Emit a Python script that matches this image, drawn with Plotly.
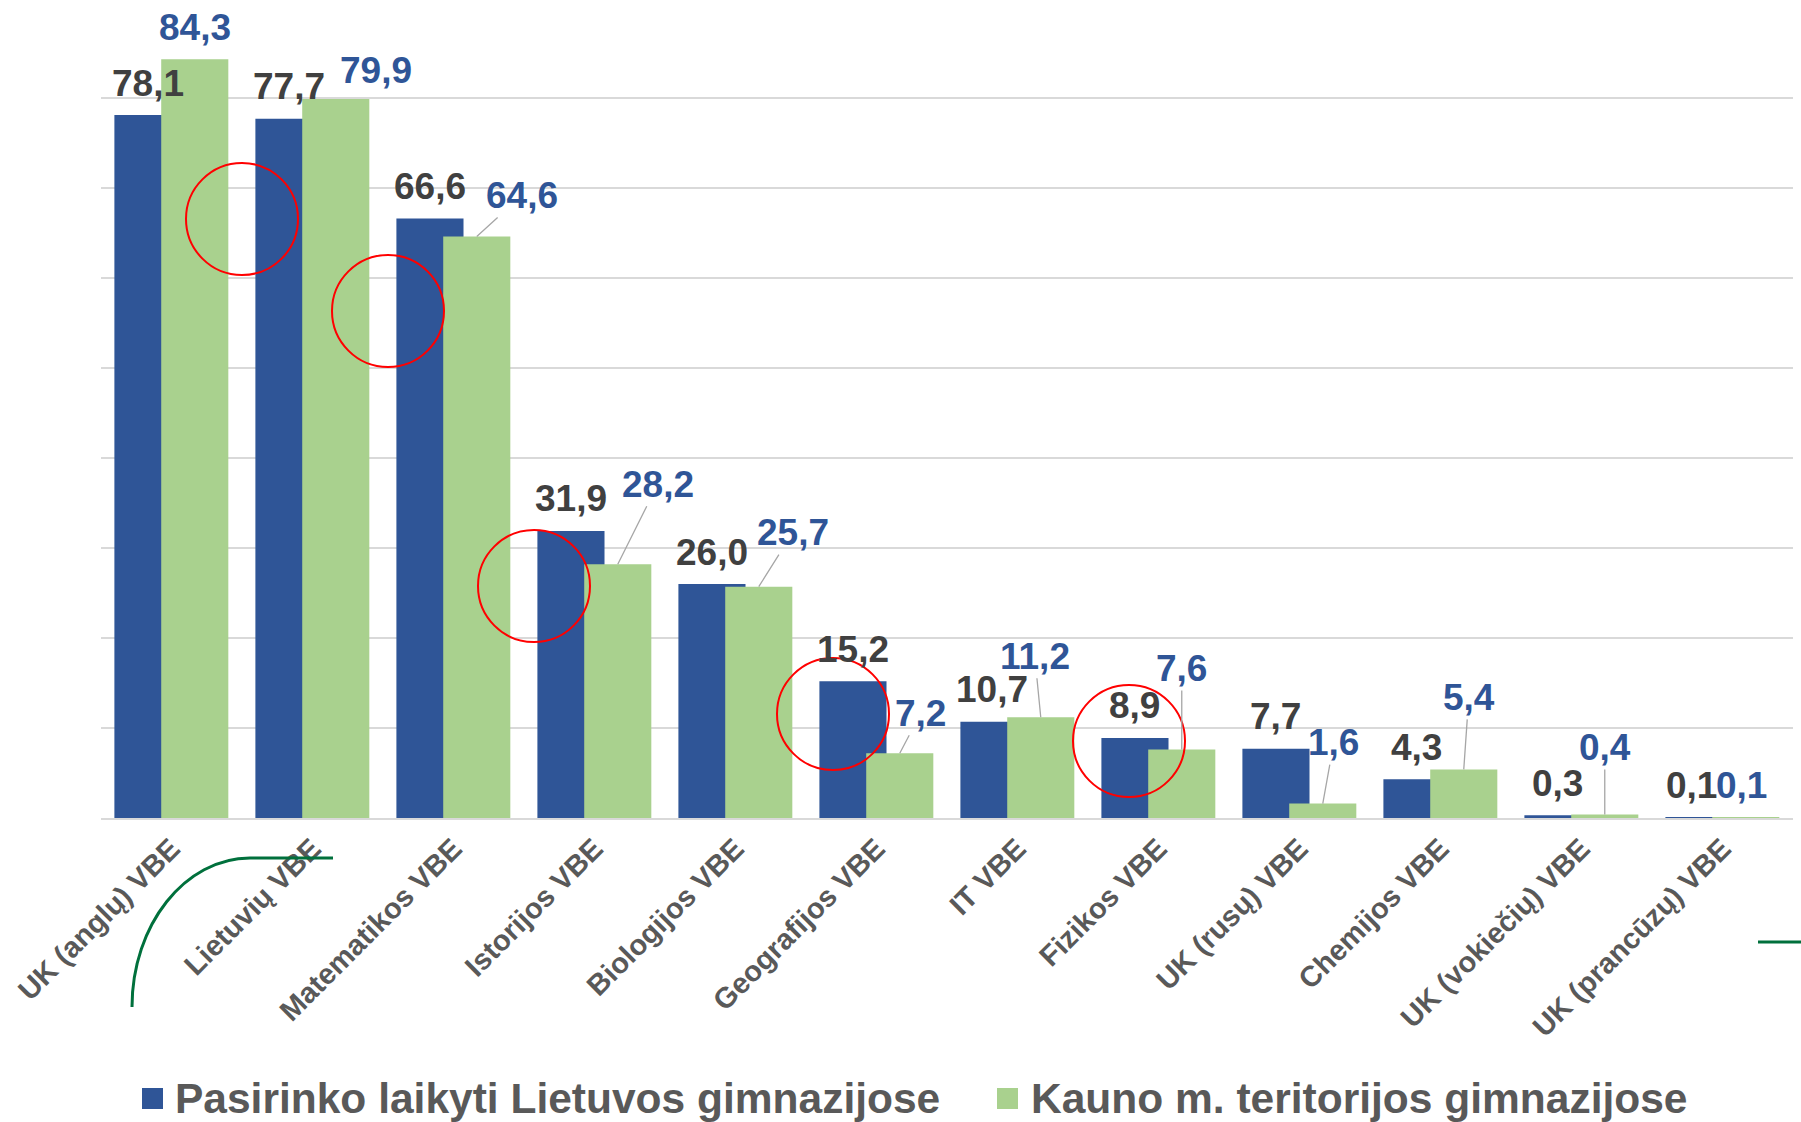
import plotly.graph_objects as go

# ---------------- data ----------------
categories = [
    "UK (anglų) VBE", "Lietuvių VBE", "Matematikos VBE", "Istorijos VBE",
    "Biologijos VBE", "Geografijos VBE", "IT VBE", "Fizikos VBE",
    "UK (rusų) VBE", "Chemijos VBE", "UK (vokiečių) VBE", "UK (prancūzų) VBE",
]
lithuania = [78.1, 77.7, 66.6, 31.9, 26.0, 15.2, 10.7, 8.9, 7.7, 4.3, 0.3, 0.1]
kaunas = [84.3, 79.9, 64.6, 28.2, 25.7, 7.2, 11.2, 7.6, 1.6, 5.4, 0.4, 0.1]
series_names = ["Pasirinko laikyti Lietuvos gimnazijose",
                "Kauno m. teritorijos gimnazijose"]

# ---------------- label placement (pixels) ----------------
blue_label_dx = [0, 0, 0, 0, 0, 0, -2, 0, 0, 0, 0, -7]
blue_label_up = [32] * 12
green_label_dx = [0, 40, 45, 40, 34, 21, -6, 0, 11, 5, 0, -4]
green_label_up = [32, 28, 41, 80, 54, 40, 61, 81, 61, 72, 67, 32]
green_leader = [False, False, True, True, True, True, True, True, True, True, True, False]

# ---------------- style ----------------
BLUE = "#2F5597"
GREEN = "#A9D18E"
DARK = "#404040"
GRAY = "#595959"
GRID = "#D9D9D9"
FONT = "Liberation Sans, Arial, sans-serif"

W, H = 1801, 1122
ML, MR, MT, MB = 101, 8, 8, 304
PW, PH = W - ML - MR, H - MT - MB


def px(x):
    return (x - ML) / PW


def py(y):
    return (H - MB - y) / PH


BAR_W = 0.476
OFF_B = -0.405
OFF_G = -0.073
CAT_PX = PW / len(categories)
shift_b = (OFF_B + BAR_W / 2) * CAT_PX
shift_g = (OFF_G + BAR_W / 2) * CAT_PX


def fmt(v):
    return f"{v:.1f}".replace(".", ",")


fig = go.Figure()
fig.add_bar(x=categories, y=lithuania, name=series_names[0], marker_color=BLUE,
            marker_line_width=0, width=BAR_W, offset=OFF_B, showlegend=False,
            hoverinfo="skip")
fig.add_bar(x=categories, y=kaunas, name=series_names[1], marker_color=GREEN,
            marker_line_width=0, width=BAR_W, offset=OFF_G, showlegend=False,
            hoverinfo="skip")

annotations = []
for i, (c, v) in enumerate(zip(categories, lithuania)):
    annotations.append(dict(
        x=c, y=v, xref="x", yref="y", text=fmt(v), showarrow=False,
        xshift=shift_b + blue_label_dx[i], yshift=blue_label_up[i],
        xanchor="center", yanchor="middle",
        font=dict(family=FONT, size=37, color=DARK, weight="bold")))

for i, (c, v) in enumerate(zip(categories, kaunas)):
    if green_leader[i]:
        annotations.append(dict(
            x=c, y=v, xref="x", yref="y", text=fmt(v), showarrow=True,
            ax=green_label_dx[i], ay=-green_label_up[i],
            xshift=shift_g, arrowhead=0, arrowwidth=1.3,
            arrowcolor="#A6A6A6", standoff=0,
            font=dict(family=FONT, size=37, color=BLUE, weight="bold")))
    else:
        annotations.append(dict(
            x=c, y=v, xref="x", yref="y", text=fmt(v), showarrow=False,
            xshift=shift_g + green_label_dx[i], yshift=green_label_up[i],
            xanchor="center", yanchor="middle",
            font=dict(family=FONT, size=37, color=BLUE, weight="bold")))

# manual legend (larger squares like the original)
legend_items = [(series_names[0], BLUE, 142, 173), (series_names[1], GREEN, 997, 1029)]
shapes = []
for name, col, sx, tx in legend_items:
    shapes.append(dict(type="rect", xref="paper", yref="paper",
                       x0=px(sx), x1=px(sx + 21), y0=py(1109), y1=py(1088),
                       fillcolor=col, line=dict(width=0)))
    annotations.append(dict(
        x=px(tx), y=py(1098), xref="paper", yref="paper", text=name,
        showarrow=False, xanchor="left", yanchor="middle",
        font=dict(family=FONT, size=42.5, color=GRAY, weight="bold")))

# red highlight circles
circles = [(242, 219), (388, 311), (534, 586), (833, 714), (1129, 741)]
for cx, cy in circles:
    shapes.append(dict(type="circle", xref="paper", yref="paper",
                       x0=px(cx - 56), x1=px(cx + 56), y0=py(cy + 56), y1=py(cy - 56),
                       line=dict(color="#FF0000", width=2), fillcolor="rgba(0,0,0,0)"))

# decorative green lines
p0 = (132, 1007)
c1 = (132, 925)
c2 = (185, 858)
p1 = (250, 858)
p2 = (333, 858)
path = (f"M {px(p0[0])},{py(p0[1])} C {px(c1[0])},{py(c1[1])} {px(c2[0])},{py(c2[1])} "
        f"{px(p1[0])},{py(p1[1])} L {px(p2[0])},{py(p2[1])}")
shapes.append(dict(type="path", xref="paper", yref="paper", path=path,
                   line=dict(color="#00703C", width=3)))
shapes.append(dict(type="line", xref="paper", yref="paper",
                   x0=px(1758), x1=px(1801), y0=py(942), y1=py(942),
                   line=dict(color="#00703C", width=3)))

fig.update_layout(
    width=W, height=H,
    margin=dict(l=ML, r=MR, t=MT, b=MB),
    paper_bgcolor="white", plot_bgcolor="white",
    barmode="overlay",
    showlegend=False,
    annotations=annotations,
    shapes=shapes,
    font=dict(family=FONT),
)
fig.update_xaxes(
    tickangle=-45, ticks="",
    tickfont=dict(family=FONT, size=29, color=GRAY, weight="bold"),
    showline=True, linecolor=GRID, linewidth=2, showgrid=False,
)
fig.update_yaxes(
    range=[0, 90], dtick=10, showticklabels=False, ticks="",
    showgrid=True, gridcolor=GRID, gridwidth=1.5, zeroline=False,
)

fig.write_html("out.html", config={"displayModeBar": False},
               post_script="document.body.style.margin='0';document.body.style.overflow='hidden';")
